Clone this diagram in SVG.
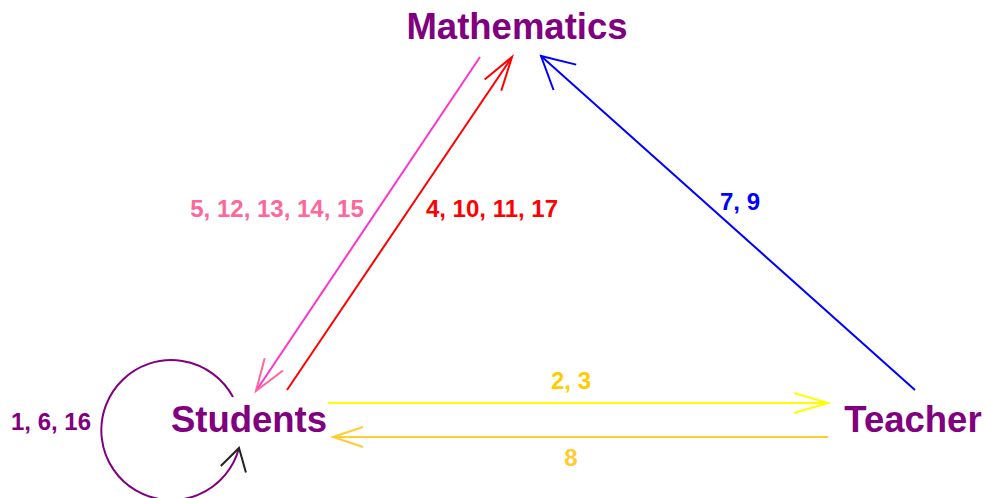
<svg xmlns="http://www.w3.org/2000/svg" width="987" height="498" viewBox="0 0 987 498">
<style>
text{font-family:"Liberation Sans",Arial,sans-serif;font-weight:bold;text-anchor:middle}
.node{font-size:36.5px;fill:#800080}
.lbl{font-size:24px}
.ln{fill:none;stroke-width:2}
</style>
<defs>
<marker id="hRed" markerUnits="userSpaceOnUse" orient="auto" markerWidth="80" markerHeight="80" viewBox="-40 -40 80 80" refX="0" refY="0" overflow="visible"><path d="M-34,-10 L0,0 L-34,10" fill="none" stroke="#FF0000" stroke-width="2"/></marker>
<marker id="hPink" markerUnits="userSpaceOnUse" orient="auto" markerWidth="80" markerHeight="80" viewBox="-40 -40 80 80" refX="0" refY="0" overflow="visible"><path d="M-32,-11 L0,0 L-32,11" fill="none" stroke="#FF6699" stroke-width="2"/></marker>
<marker id="hBlue" markerUnits="userSpaceOnUse" orient="auto" markerWidth="80" markerHeight="80" viewBox="-40 -40 80 80" refX="0" refY="0" overflow="visible"><path d="M-32,-17 L0,0 L-32,17" fill="none" stroke="#0000FF" stroke-width="2"/></marker>
<marker id="hYel" markerUnits="userSpaceOnUse" orient="auto" markerWidth="80" markerHeight="80" viewBox="-40 -40 80 80" refX="0" refY="0" overflow="visible"><path d="M-34,-10 L0,0 L-34,10" fill="none" stroke="#FFFF00" stroke-width="2"/></marker>
<marker id="hOr" markerUnits="userSpaceOnUse" orient="auto" markerWidth="80" markerHeight="80" viewBox="-40 -40 80 80" refX="0" refY="0" overflow="visible"><path d="M-30,-10 L0,0 L-30,10" fill="none" stroke="#FFCC33" stroke-width="2"/></marker>
<marker id="hBlk" markerUnits="userSpaceOnUse" orient="auto" markerWidth="80" markerHeight="80" viewBox="-40 -40 80 80" refX="0" refY="0" overflow="visible"><path d="M-22,-13 L0,0 L-22,13" fill="none" stroke="#222222" stroke-width="2"/></marker>
</defs>
<g id="connectors">
<line class="ln" x1="480" y1="57" x2="256" y2="391" stroke="#FF33CC" marker-end="url(#hPink)"/>
<line class="ln" x1="287" y1="390" x2="512" y2="57" stroke="#FF0000" marker-end="url(#hRed)"/>
<line class="ln" x1="915" y1="390" x2="541" y2="56" stroke="#0000FF" marker-end="url(#hBlue)"/>
<line class="ln" x1="328" y1="403" x2="828" y2="403" stroke="#FFFF00" marker-end="url(#hYel)"/>
<line class="ln" x1="828" y1="437" x2="333" y2="437" stroke="#FFCC33" marker-end="url(#hOr)"/>
<path class="ln" d="M233,397 A70,70 0 1 0 239,448" stroke="#800080" marker-end="url(#hBlk)"/>
<text class="lbl" x="277" y="217" fill="#FF6699">5, 12, 13, 14, 15</text>
<text class="lbl" x="492" y="217" fill="#FF0000">4, 10, 11, 17</text>
<text class="lbl" x="740" y="210" fill="#0000FF">7, 9</text>
<text class="lbl" x="571" y="389" fill="#FFCC00">2, 3</text>
<text class="lbl" x="571" y="466" fill="#FFCC33">8</text>
<text class="lbl" x="51" y="430" fill="#800080">1, 6, 16</text>
</g>
<g id="mathematics"><text class="node" x="517" y="39">Mathematics</text></g>
<g id="students"><text class="node" x="249" y="432">Students</text></g>
<g id="teacher"><text class="node" x="913" y="432">Teacher</text></g>
</svg>
